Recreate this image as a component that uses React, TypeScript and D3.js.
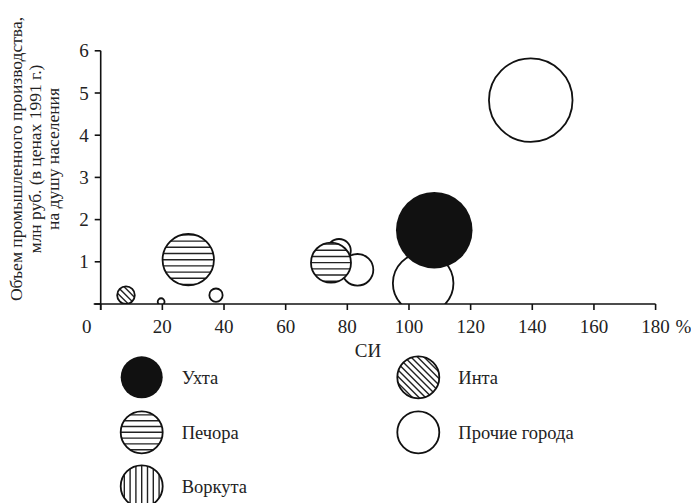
import React from "react";
import * as d3 from "d3";

// ---- data ----
const cityNames = ["Инта", "Прочие", "Прочие", "Печора", "Прочие", "Печора", "Прочие", "Прочие", "Ухта", "Прочие"];
const siValues = [8.2, 19.6, 37.4, 28.4, 77.3, 74.7, 83.3, 104.6, 108.2, 139.5];
const volumeValues = [0.21, 0.055, 0.21, 1.05, 1.26, 0.98, 0.81, 0.49, 1.75, 4.83];
const sizeValues = [4.4, 0.66, 2.5, 37.4, 7.9, 22.7, 14.2, 52, 83, 99];
const fillKinds = ["diag", "none", "none", "hstripe", "none", "hstripe", "none", "none", "solid", "none"];
const drawOrder = [1, 2, 4, 6, 7, 9, 0, 3, 5, 8];

const xTicks = [0, 20, 40, 60, 80, 100, 120, 140, 160, 180];
const yTicks = [0, 1, 2, 3, 4, 5, 6];

const legendLabels = ["Ухта", "Печора", "Воркута", "Инта", "Прочие города"];
const legendKinds = ["solid", "hstripe", "vstripe", "diag", "none"];

const yTitleLines = [
  "Объем промышленного производства,",
  "млн руб. (в ценах 1991 г.)",
  "на душу населения",
];

const FONT = "'Liberation Serif', 'Tinos', 'Noto Serif', 'DejaVu Serif', 'FreeSerif', 'Nimbus Roman', 'Times New Roman', Times, serif";

function stripeLines(kind: string, r: number, spacing: number) {
  const lines: { x1: number; y1: number; x2: number; y2: number }[] = [];
  const n = Math.ceil((r * 1.5) / spacing);
  for (let i = -n; i <= n; i++) {
    const o = i * spacing;
    const L = r * 2;
    if (kind === "hstripe") lines.push({ x1: -L, y1: o, x2: L, y2: o });
    else if (kind === "vstripe") lines.push({ x1: o, y1: -L, x2: o, y2: L });
    else if (kind === "diag") {
      const s = Math.SQRT1_2;
      const px = o * s, py = -o * s;
      lines.push({ x1: px - L * s, y1: py - L * s, x2: px + L * s, y2: py + L * s });
    }
  }
  return lines;
}

function Bubble({ id, cx, cy, r, kind, spacing }: any) {
  const lines = stripeLines(kind, r, spacing);
  return (
    <g transform={`translate(${cx},${cy})`}>
      <clipPath id={id}>
        <circle r={r} />
      </clipPath>
      <circle r={r} fill={kind === "solid" ? "#111" : "#fff"} />
      <g clipPath={`url(#${id})`}>
        {lines.map((l, i) => (
          <line key={i} x1={l.x1} y1={l.y1} x2={l.x2} y2={l.y2} stroke="#222" strokeWidth={1.4} />
        ))}
      </g>
      <circle r={r} fill="none" stroke="#111" strokeWidth={kind === "solid" ? 0 : 1.8} />
    </g>
  );
}

export default function App() {
  const W = 691, H = 503;
  const x = d3.scaleLinear().domain([0, 180]).range([100.7, 655.6]);
  const y = d3.scaleLinear().domain([0, 6]).range([304, 50.8]);
  const rScale = d3.scaleSqrt().domain([0, 100]).range([0, 42]);

  const legendX = [141.7, 141.7, 141.7, 418.3, 418.3];
  const legendY = [377.3, 432.3, 486.3, 377.3, 432.3];
  const ts = { fontFamily: FONT };

  return (
    <div style={{ position: "fixed", left: 0, top: 0, fontFamily: FONT }}>
      <svg width={W} height={H} style={{ display: "block", background: "#fff", fontFamily: FONT }}>
        <defs>
          <clipPath id="plotClip">
            <rect x={x(0)} y={0} width={x(180) - x(0) + 60} height={y(0)} />
          </clipPath>
        </defs>

        <g clipPath="url(#plotClip)">
          {drawOrder.map((i) => (
            <Bubble
              key={i}
              id={`b${i}`}
              cx={x(siValues[i])}
              cy={y(volumeValues[i])}
              r={rScale(sizeValues[i])}
              kind={fillKinds[i]}
              spacing={fillKinds[i] === "diag" ? 4.6 : 6.2}
            />
          ))}
        </g>

        <g stroke="#111" strokeWidth={1.6}>
          <line x1={x(0)} x2={x(0)} y1={y(6)} y2={y(0) + 6} />
          <line x1={x(0) - 7} x2={x(180)} y1={y(0)} y2={y(0)} />
          {xTicks.map((t) => (
            <line key={t} x1={x(t)} x2={x(t)} y1={y(0)} y2={y(0) + 6} />
          ))}
          {yTicks.map((t) => (
            <line key={t} x1={x(0) - 6} x2={x(0)} y1={y(t)} y2={y(t)} />
          ))}
        </g>
        <g fontSize={19} fill="#222" style={ts}>
          {xTicks.map((t) => (
            <text key={t} x={t === 0 ? x(t) - 14 : x(t)} y={333} textAnchor="middle" style={ts}>
              {String(t)}
            </text>
          ))}
          <text x={x(180) + 20} y={333} style={ts}>%</text>
          {yTicks.filter((t) => t > 0).map((t) => (
            <text key={t} x={x(0) - 12} y={y(t)} dy="0.35em" textAnchor="end" style={ts}>
              {String(t)}
            </text>
          ))}
          <text x={368} y={357} textAnchor="middle" style={ts}>СИ</text>
        </g>

        <g fontSize={17.5} fill="#222">
          {yTitleLines.map((s, i) => (
            <text key={i} transform={`translate(${22 + i * 18.5},159) rotate(-90)`} textAnchor="middle" style={ts}>
              {s}
            </text>
          ))}
        </g>

        {legendLabels.map((lab, i) => (
          <g key={lab}>
            <Bubble id={`lg${i}`} cx={legendX[i]} cy={legendY[i]} r={21} kind={legendKinds[i]} spacing={legendKinds[i] === "diag" ? 4.6 : 5.8} />
            <text x={legendX[i] + 40} y={legendY[i]} dy="0.35em" fontSize={18.5} fill="#222" style={ts}>
              {lab}
            </text>
          </g>
        ))}
      </svg>
    </div>
  );
}
